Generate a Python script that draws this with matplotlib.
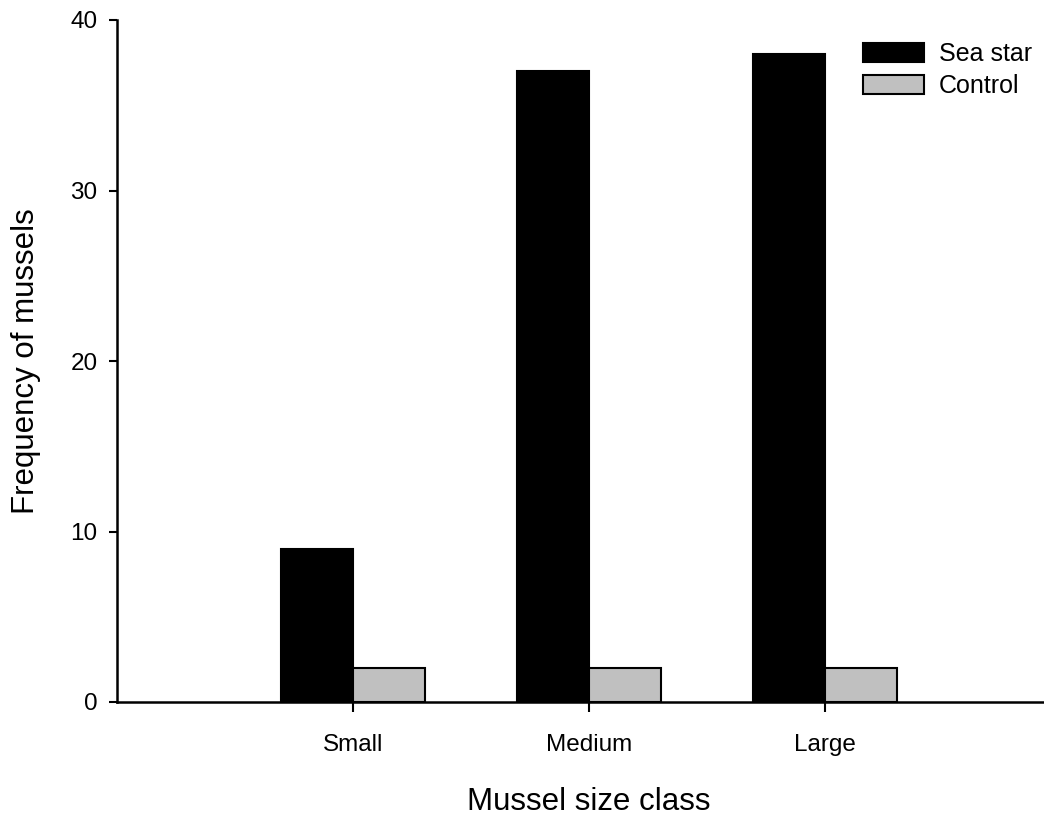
import matplotlib
matplotlib.use("Agg")
import matplotlib.pyplot as plt
import numpy as np

categories = ["Small", "Medium", "Large"]
sea_star = [9, 37, 38]
control = [2, 2, 2]

plt.rcParams['font.family'] = ['Liberation Sans', 'DejaVu Sans']

fig = plt.figure(figsize=(10.44, 8.17), dpi=100)
ax = fig.add_axes([117/1044, 1 - 702/817, (1061-117)/1044, (702-20)/817])

x = np.arange(1, len(categories) + 1)
w = 0.305
ax.bar(x - w/2, sea_star, width=w, color="black", edgecolor="black", linewidth=1.5, label="Sea star")
ax.bar(x + w/2, control, width=w, color="#c0c0c0", edgecolor="black", linewidth=1.5, label="Control")

ax.set_xlim(0, 4)
ax.set_ylim(0, 40)
ax.set_xticks(x)
ax.set_xticklabels(categories, fontsize=17.5)
ax.set_yticks([0, 10, 20, 30, 40])
ax.tick_params(axis='y', labelsize=17.5, direction='out', length=6, width=1.5, pad=8)
ax.tick_params(axis='x', direction='out', length=7, width=1.5, pad=16)

for s in ["top", "right"]:
    ax.spines[s].set_visible(False)
for s in ["left", "bottom"]:
    ax.spines[s].set_linewidth(1.8)

ax.set_xlabel("Mussel size class", fontsize=22.5, labelpad=22)
ax.set_ylabel("Frequency of mussels", fontsize=22.5, labelpad=21)

ax.legend(loc="upper left", bbox_to_anchor=((863-117)/944, (702-42)/682), frameon=False, fontsize=18,
          handlelength=2.45, handleheight=0.8, handletextpad=0.6, labelspacing=0.32, borderaxespad=0,
          borderpad=0)

fig.savefig("out.png", dpi=100)
